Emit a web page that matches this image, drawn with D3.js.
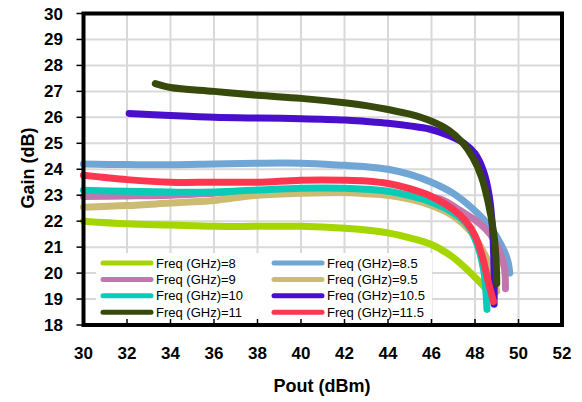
<!DOCTYPE html>
<html lang="en">
<head>
<meta charset="utf-8">
<script src="https://d3js.org/d3.v7.min.js"></script>
<title>Gain vs Pout</title>
<style>
  body { margin:0; background:#fff; }
  .tick-label { font-family:"Liberation Sans", Arial, sans-serif; font-weight:bold; font-size:17px; fill:#000; }
  .axis-title { font-family:"Liberation Sans", Arial, sans-serif; font-weight:bold; font-size:18px; fill:#000; }
  .legend-text { font-family:"Liberation Sans", Arial, sans-serif; font-size:13px; fill:#000; }
</style>
</head>
<body>
<script>
var width = 582, height = 402;

// series labels and colours
var freqs = ["8", "8.5", "9", "9.5", "10", "10.5", "11", "11.5"];
var colors = ["#a6d600", "#6fa6d6", "#c177ad", "#ccbb72", "#0ccab8", "#4a0fcc", "#374a0b", "#ff3650"];

// Pout (dBm) / Gain (dB), one pair per series
var pout8  = [30, 32, 34, 36, 38, 40, 42, 43, 44, 45, 46, 47, 47.8, 48.5];
var gain8  = [22.0, 21.9, 21.85, 21.8, 21.8, 21.8, 21.73, 21.66, 21.55, 21.36, 21.1, 20.6, 20.0, 19.4];

var pout85 = [30, 32, 34, 36, 38, 40, 42, 43, 44, 45, 46, 47, 48, 48.7, 49.2, 49.5, 49.6];
var gain85 = [24.2, 24.18, 24.17, 24.2, 24.23, 24.23, 24.15, 24.1, 24.0, 23.8, 23.5, 23.07, 22.4, 21.77, 21.1, 20.5, 20.0];

var pout9  = [30, 32, 34, 36, 38, 40, 42, 43, 44, 45, 46.4, 47.3, 48.2, 48.7, 49.1, 49.35, 49.4];
var gain9  = [22.95, 22.97, 23.0, 23.08, 23.15, 23.2, 23.2, 23.17, 23.1, 23.0, 22.85, 22.42, 21.92, 21.5, 20.9, 20.2, 19.4];

var pout95 = [30, 32, 34, 36, 38, 40, 42, 43, 44, 45, 46, 47, 47.8, 48.4, 48.8, 49.0];
var gain95 = [22.54, 22.6, 22.7, 22.8, 23.0, 23.08, 23.1, 23.06, 23.0, 22.85, 22.6, 22.2, 21.6, 20.8, 20.0, 19.3];

var pout10 = [30, 32, 34, 36, 38, 40, 42, 43, 44, 45, 46, 47, 47.7, 48.1, 48.4, 48.55];
var gain10 = [23.19, 23.15, 23.12, 23.12, 23.2, 23.27, 23.27, 23.23, 23.15, 22.98, 22.73, 22.32, 21.8, 21.1, 20.1, 18.6];

var pout105 = [32.1, 34, 36, 38, 40, 42, 43, 44, 45, 45.9, 46.8, 47.5, 48, 48.4, 48.65, 48.8, 48.87, 48.88];
var gain105 = [26.15, 26.07, 26.0, 25.97, 25.95, 25.9, 25.84, 25.77, 25.67, 25.55, 25.3, 25.0, 24.6, 23.9, 23.0, 21.8, 20.3, 18.8];

var pout11 = [33.3, 34, 36, 38, 40, 42, 43, 44, 45, 46, 46.8, 47.4, 47.9, 48.3, 48.6, 48.85, 48.97, 49.0];
var gain11 = [27.3, 27.15, 27.0, 26.85, 26.73, 26.56, 26.45, 26.3, 26.12, 25.85, 25.5, 25.05, 24.45, 23.7, 22.75, 21.6, 20.5, 19.6];

var pout115 = [30, 31, 32, 34, 36, 38, 40, 42, 43, 44, 45, 46, 47, 47.6, 48, 48.35, 48.6, 48.85];
var gain115 = [23.77, 23.68, 23.6, 23.5, 23.5, 23.5, 23.58, 23.58, 23.55, 23.45, 23.25, 22.95, 22.45, 21.98, 21.45, 20.6, 19.7, 18.9];

var poutAll = [pout8, pout85, pout9, pout95, pout10, pout105, pout11, pout115];
var gainAll = [gain8, gain85, gain9, gain95, gain10, gain105, gain11, gain115];

var xTicks = [30, 32, 34, 36, 38, 40, 42, 44, 46, 48, 50, 52];
var yTicks = [18, 19, 20, 21, 22, 23, 24, 25, 26, 27, 28, 29, 30];

var X = d3.scaleLinear().domain([30, 52]).range([83.5, 562]);
var Y = d3.scaleLinear().domain([18, 30]).range([325, 13.5]);

var svg = d3.select("body").append("svg")
  .attr("width", width)
  .attr("height", height);

// grid
svg.append("g").selectAll("line").data(xTicks.slice(1, -1)).enter().append("line")
  .attr("x1", function(d){ return X(d); }).attr("x2", function(d){ return X(d); })
  .attr("y1", Y(30)).attr("y2", Y(18))
  .attr("stroke", "#d9d9d9").attr("stroke-width", 2);
svg.append("g").selectAll("line").data(yTicks.slice(1, -1)).enter().append("line")
  .attr("x1", X(30)).attr("x2", X(52))
  .attr("y1", function(d){ return Y(d); }).attr("y2", function(d){ return Y(d); })
  .attr("stroke", "#d9d9d9").attr("stroke-width", 2);

// legend background
var legX = 96, legY = 253;
svg.append("rect").attr("x", legX).attr("y", legY).attr("width", 336).attr("height", 70).attr("fill", "#fff");

// series
var line = d3.line()
  .x(function(d){ return X(d[0]); })
  .y(function(d){ return Y(d[1]); })
  .curve(d3.curveCatmullRom.alpha(0.5));

freqs.forEach(function(f, i){
  var pts = poutAll[i].map(function(p, j){ return [p, gainAll[i][j]]; });
  svg.append("path")
    .attr("d", line(pts))
    .attr("fill", "none")
    .attr("stroke", colors[i])
    .attr("stroke-width", 7)
    .attr("stroke-linecap", "round")
    .attr("stroke-linejoin", "round");
});

// legend
freqs.forEach(function(f, i){
  var col = i % 2, row = Math.floor(i / 2);
  var lx = col === 0 ? 103 : 274;
  var ly = 263 + row * 16.4;
  svg.append("line")
    .attr("x1", lx).attr("x2", lx + 48)
    .attr("y1", ly).attr("y2", ly)
    .attr("stroke", colors[i]).attr("stroke-width", 5).attr("stroke-linecap", "round");
  svg.append("text").attr("class", "legend-text")
    .attr("x", lx + 53).attr("y", ly + 4.5)
    .text("Freq (GHz)=" + f);
});

// frame
svg.append("rect")
  .attr("x", X(30)).attr("y", Y(30))
  .attr("width", X(52) - X(30)).attr("height", Y(18) - Y(30))
  .attr("fill", "none").attr("stroke", "#000").attr("stroke-width", 4);

// ticks
svg.append("g").selectAll("line").data(yTicks).enter().append("line")
  .attr("x1", X(30) - 7).attr("x2", X(30))
  .attr("y1", function(d){ return Y(d); }).attr("y2", function(d){ return Y(d); })
  .attr("stroke", "#000").attr("stroke-width", 1.5);
svg.append("g").selectAll("line").data(xTicks).enter().append("line")
  .attr("x1", function(d){ return X(d); }).attr("x2", function(d){ return X(d); })
  .attr("y1", Y(18)).attr("y2", Y(18) - 6)
  .attr("stroke", "#000").attr("stroke-width", 1.5);

// tick labels
svg.append("g").selectAll("text").data(yTicks).enter().append("text")
  .attr("class", "tick-label")
  .attr("x", 63).attr("y", function(d){ return Y(d) + 6; })
  .attr("text-anchor", "end")
  .text(function(d){ return d; });
svg.append("g").selectAll("text").data(xTicks).enter().append("text")
  .attr("class", "tick-label")
  .attr("x", function(d){ return X(d); }).attr("y", 359)
  .attr("text-anchor", "middle")
  .text(function(d){ return d; });

// axis titles
svg.append("text").attr("class", "axis-title")
  .attr("x", 322).attr("y", 392)
  .attr("text-anchor", "middle")
  .text("Pout (dBm)");
svg.append("text").attr("class", "axis-title")
  .attr("transform", "translate(34,168) rotate(-90)")
  .attr("text-anchor", "middle")
  .text("Gain (dB)");
</script>
</body>
</html>
